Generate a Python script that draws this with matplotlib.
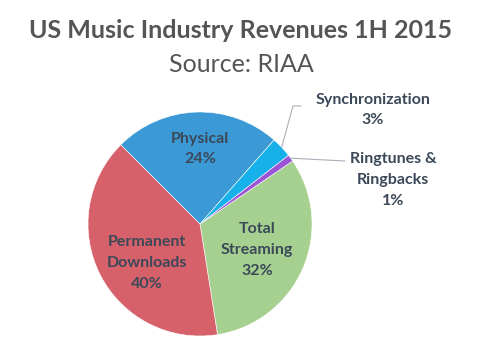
import numpy as np
import matplotlib
matplotlib.use("Agg")
import matplotlib.pyplot as plt

# revenue share, clockwise from the top right
labels = ["Total\nStreaming", "Permanent\nDownloads", "Physical", "Synchronization", "Ringtunes &\nRingbacks"]
shares = [32, 40, 24, 3, 1]
colors = ["#a5d08f", "#d6616a", "#3b9ad5", "#16b1ea", "#9a55d6"]

title = "US Music Industry Revenues 1H 2015"
subtitle = "Source: RIAA"

W, H = 478, 359
fig = plt.figure(figsize=(W / 100, H / 100), dpi=100)
ax = fig.add_axes([0, 0, 1, 1])

txt = "#3b4858"
font = ["Lato", "DejaVu Sans"]

# positions below are in pixels from the top, flipped with H - y
cx, cy, r = 200, H - 224, 112
start = 34.2
wedges, _ = ax.pie(shares, colors=colors, startangle=start, counterclock=False,
                   center=(cx, cy), radius=r, frame=True,
                   wedgeprops=dict(edgecolor="white", linewidth=0.4))
ax.set_xlim(0, W)
ax.set_ylim(0, H)
ax.set_aspect("equal")
ax.axis("off")

lab_fs = 11.5
ls = 1.6

# label inside the big wedges
inside = {0: (257, 250), 1: (147, 263), 2: (200, 149)}
for i, (x, y) in inside.items():
    ax.text(x, H - y, f"{labels[i]}\n{shares[i]}%", ha="center", va="center",
            fontsize=lab_fs, fontweight="bold", color=txt, family=font,
            linespacing=ls)

def edge_point(i):
    w = wedges[i]
    mid = np.deg2rad((w.theta1 + w.theta2) / 2)
    return cx + r * np.cos(mid), cy + r * np.sin(mid)

x0, y0 = edge_point(3)
ax.plot([x0, 293, 301], [y0, H - 106, H - 106], color="#a8b0b8", lw=0.8)
ax.text(373, H - 110, f"{labels[3]}\n{shares[3]}%", ha="center", va="center",
        fontsize=lab_fs, fontweight="bold", color=txt, family=font, linespacing=ls)

x0, y0 = edge_point(4)
ax.plot([x0, 345], [y0, H - 161], color="#a8b0b8", lw=0.8)
ax.text(393, H - 180, f"{labels[4]}\n{shares[4]}%", ha="center", va="center",
        fontsize=lab_fs, fontweight="bold", color=txt, family=font, linespacing=ls)

ax.text(W / 2 + 2, H - 30, title, ha="center", va="center", fontsize=18,
        fontweight="bold", color="#555555", family=font)
ax.text(W / 2 + 2, H - 64, subtitle, ha="center", va="center", fontsize=18,
        color="#555555", family=font)

fig.savefig("out.png", dpi=100, facecolor="white")
